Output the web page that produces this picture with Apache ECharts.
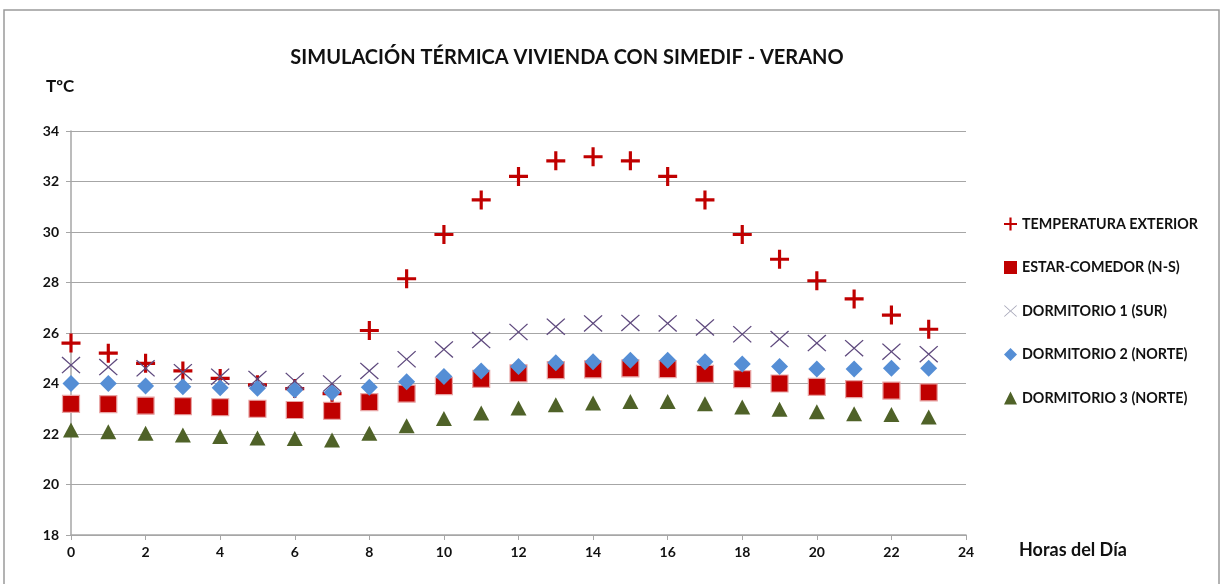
<!DOCTYPE html>
<html>
<head>
<meta charset="utf-8">
<script src="https://cdn.jsdelivr.net/npm/echarts@6/dist/echarts.min.js"></script>
<style>
html,body{margin:0;padding:0;background:#fff;}
#chart{width:1221px;height:584px;}
</style>
</head>
<body>
<div id="chart"></div>
<script>
const hours = [0,1,2,3,4,5,6,7,8,9,10,11,12,13,14,15,16,17,18,19,20,21,22,23];
const seriesNames = ['TEMPERATURA EXTERIOR','ESTAR-COMEDOR (N-S)','DORMITORIO 1 (SUR)','DORMITORIO 2 (NORTE)','DORMITORIO 3 (NORTE)'];
const exterior = [25.6,25.2,24.8,24.5,24.2,23.95,23.8,23.6,26.1,28.15,29.9,31.27,32.2,32.82,32.98,32.82,32.2,31.27,29.9,28.92,28.07,27.35,26.71,26.15];
const estar = [23.19,23.18,23.12,23.1,23.06,23.0,22.95,22.92,23.26,23.6,23.9,24.18,24.4,24.53,24.56,24.6,24.57,24.38,24.17,24.0,23.87,23.78,23.72,23.65];
const dorm1 = [24.73,24.65,24.6,24.45,24.27,24.18,24.1,24.0,24.5,24.96,25.35,25.72,26.04,26.25,26.38,26.4,26.38,26.22,25.95,25.76,25.6,25.4,25.26,25.16];
const dorm2 = [24.0,24.0,23.9,23.87,23.83,23.81,23.74,23.64,23.85,24.07,24.28,24.5,24.67,24.82,24.86,24.92,24.92,24.86,24.77,24.67,24.57,24.57,24.6,24.6];
const dorm3 = [22.16,22.09,22.03,21.96,21.9,21.84,21.82,21.76,22.03,22.33,22.61,22.83,23.03,23.16,23.23,23.29,23.29,23.2,23.07,22.98,22.88,22.8,22.77,22.67];
const yTicks = {min:18, max:34, interval:2};
const xTicks = {min:0, max:24, interval:2};

const FONT = 'Lato';
const plusPath = 'path://M7.5,0H10.5V7.5H18V10.5H10.5V18H7.5V10.5H0V7.5H7.5Z';
const xPathFill = 'path://M0,0.8L0.9,0L9,7.2L17.1,0L18,0.8L9.9,8L18,15.2L17.1,16L9,8.8L0.9,16L0,15.2L8.1,8Z';

function pairs(arr){ return hours.map((h,i)=>[h,arr[i]]); }

const chart = echarts.init(document.getElementById('chart'), null, {renderer:'canvas'});
chart.setOption({
  backgroundColor:'#ffffff',
  animation:false,
  title:{
    text:'SIMULACIÓN TÉRMICA VIVIENDA CON SIMEDIF - VERANO',
    left:562, textAlign:'center', top:43,
    textStyle:{fontFamily:FONT, fontWeight:'bold', fontSize:20, color:'#111'}
  },
  graphic:[
    {type:'rect', shape:{x:4,y:10,width:1215,height:590}, style:{fill:'none', stroke:'#9a9a9a', lineWidth:1.5}, silent:true},
    {type:'text', left:46, top:78, style:{text:'TºC', font:'bold 17px '+FONT, fill:'#111'}},
    {type:'text', left:1019, top:541, style:{text:'Horas del Día', font:'bold 18px '+FONT, fill:'#111'}}
  ],
  legend:{
    orient:'vertical', left:999, top:212,
    itemWidth:13, itemHeight:13, itemGap:29.5,
    textStyle:{fontFamily:FONT, fontWeight:'bold', fontSize:14.3, color:'#111'},
    data:[
      {name:seriesNames[0], icon:plusPath, itemStyle:{color:'#c00000', opacity:1}},
      {name:seriesNames[1], icon:'rect', itemStyle:{opacity:1, borderWidth:0}},
      {name:seriesNames[2], icon:xPathFill, itemStyle:{color:'#a6a6b8', borderWidth:0, opacity:1}},
      {name:seriesNames[3], icon:'diamond', itemStyle:{opacity:1}},
      {name:seriesNames[4], icon:'triangle', itemStyle:{opacity:1}}
    ]
  },
  grid:{left:71, right:255, top:131, bottom:49, containLabel:false},
  xAxis:{
    type:'value', min:xTicks.min, max:xTicks.max, interval:xTicks.interval,
    axisLine:{show:true, lineStyle:{color:'#a6a6a6', width:1.5}},
    axisTick:{show:true, length:5, lineStyle:{color:'#a6a6a6'}},
    splitLine:{show:false},
    axisLabel:{margin:10, fontFamily:FONT, fontWeight:'bold', fontSize:14, color:'#111'}
  },
  yAxis:{
    type:'value', min:yTicks.min, max:yTicks.max, interval:yTicks.interval,
    axisLine:{show:true, lineStyle:{color:'#a6a6a6', width:1.5}},
    axisTick:{show:true, length:5, lineStyle:{color:'#a6a6a6'}},
    splitLine:{show:true, lineStyle:{color:'#a6a6a6', width:1.2}},
    axisLabel:{margin:12, fontFamily:FONT, fontWeight:'bold', fontSize:14, color:'#111'}
  },
  series:[
    {name:seriesNames[1], type:'scatter', data:pairs(estar), symbol:'rect', symbolSize:17,
     itemStyle:{color:'#c00000', borderColor:'#e8a4a4', borderWidth:1.2, opacity:1}, z:2},
    {name:seriesNames[3], type:'scatter', data:pairs(dorm2), symbol:'diamond', symbolSize:17,
     itemStyle:{color:'#558ed5', opacity:1}, z:3},
    {name:seriesNames[4], type:'scatter', data:pairs(dorm3), symbol:'triangle', symbolSize:[16,15],
     itemStyle:{color:'#4f6228', opacity:1}, z:3},
    {name:seriesNames[2], type:'scatter', data:pairs(dorm1), symbol:xPathFill, symbolSize:[19,17],
     itemStyle:{color:'#5f4a7e', opacity:1}, z:4},
    {name:seriesNames[0], type:'scatter', data:pairs(exterior), symbol:plusPath, symbolSize:19,
     itemStyle:{color:'#c00000', opacity:1}, z:1}
  ]
});
</script>
</body>
</html>
